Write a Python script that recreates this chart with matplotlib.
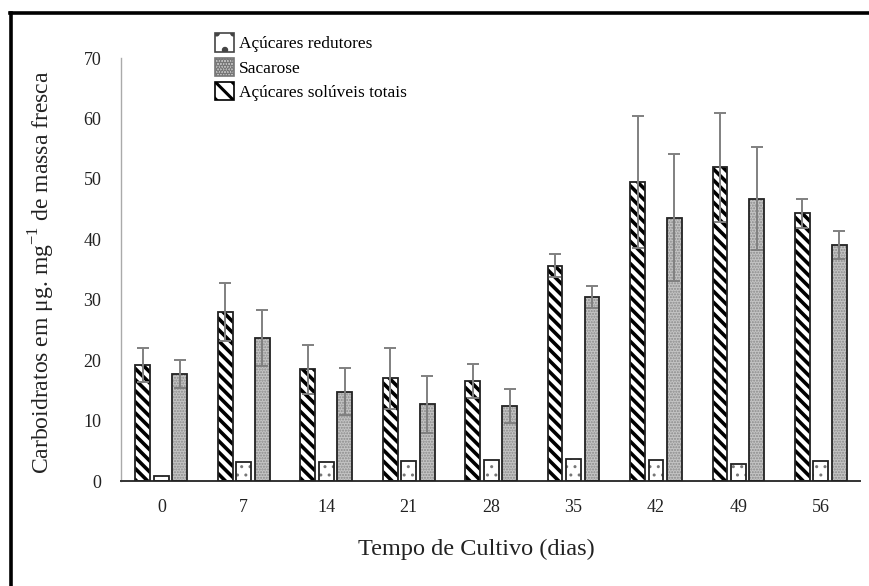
import numpy as np
import matplotlib
matplotlib.use("Agg")
from matplotlib import pyplot as plt
from matplotlib.lines import Line2D
from matplotlib.patches import Patch

plt.rcParams['font.family'] = ['Liberation Serif', 'DejaVu Serif']
plt.rcParams['mathtext.fontset'] = 'custom'
plt.rcParams['mathtext.rm'] = 'Liberation Serif'
plt.rcParams['hatch.linewidth'] = 2.2

# dados
dias = ['0', '7', '14', '21', '28', '35', '42', '49', '56']
totais = [19.2, 27.9, 18.5, 17.0, 16.6, 35.6, 49.5, 51.9, 44.3]
totais_err = [2.8, 4.8, 4.1, 5.0, 2.8, 1.9, 10.9, 9.0, 2.4]
sacarose = [17.7, 23.7, 14.8, 12.7, 12.4, 30.5, 43.6, 46.7, 39.1]
sacarose_err = [2.3, 4.6, 3.9, 4.7, 2.8, 1.8, 10.5, 8.5, 2.3]
redutores = [0.9, 3.1, 3.1, 3.3, 3.5, 3.7, 3.5, 2.8, 3.3]

x = np.arange(len(dias))
w = 0.18
off = 0.224

fig = plt.figure(figsize=(8.7, 5.86), dpi=100)
ax = fig.add_axes([0.139, 0.179, 0.850, 0.722])

# totais (listrado)
b1 = ax.bar(x - off, totais, w, color='white', edgecolor='black', hatch='\\\\\\', linewidth=0, zorder=2)
ax.bar(x - off, totais, w, fill=False, edgecolor='#222222', linewidth=1.3, zorder=3)

# redutores (pontilhado esparso)
b2 = ax.bar(x, redutores, w, color='white', edgecolor='#777777', hatch='..', linewidth=0, zorder=2)
ax.bar(x, redutores, w, fill=False, edgecolor='#222222', linewidth=1.3, zorder=3)

# sacarose (pontilhado denso)
b3 = ax.bar(x + off, sacarose, w, color='#c4c4c4', edgecolor='#8a8a8a', hatch='......', linewidth=0, zorder=2)
ax.bar(x + off, sacarose, w, fill=False, edgecolor='#222222', linewidth=1.3, zorder=3)

for p in b1:
    if hasattr(p, 'set_hatch_linewidth'):
        p.set_hatch_linewidth(2.6)
for p in list(b2) + list(b3):
    if hasattr(p, 'set_hatch_linewidth'):
        p.set_hatch_linewidth(1.0)

ax.errorbar(x - off, totais, yerr=totais_err, fmt='none', ecolor='#808080',
            elinewidth=1.4, capsize=4, capthick=1.4, zorder=4)
ax.errorbar(x + off, sacarose, yerr=sacarose_err, fmt='none', ecolor='#808080',
            elinewidth=1.4, capsize=4, capthick=1.4, zorder=4)

ax.set_xlim(-0.49, 8.48)
ax.set_ylim(0, 70)
ax.set_yticks(range(0, 71, 10))
ax.set_xticks(x)
ax.set_xticklabels(dias)
ax.tick_params(axis='both', length=0, labelsize=13, colors='#222222')
ax.tick_params(axis='y', pad=14)
ax.tick_params(axis='x', pad=13)

ax.spines['top'].set_visible(False)
ax.spines['right'].set_visible(False)
ax.spines['left'].set_color('#aaaaaa')
ax.spines['left'].set_linewidth(1.0)
ax.spines['bottom'].set_color('#333333')
ax.spines['bottom'].set_linewidth(1.4)

fig.text(0.048, 0.535, 'Carboidratos em \u03bcg. mg$^{-1}$ de massa fresca', rotation=90,
         ha='center', va='center', fontsize=17, color='#222222')
fig.text(0.547, 0.062, 'Tempo de Cultivo (dias)', ha='center', va='center',
         fontsize=17.5, color='#222222')

handles = [
    Patch(facecolor='white', edgecolor='#444444', hatch='.', linewidth=1.2),
    Patch(facecolor='#c4c4c4', edgecolor='#777777', hatch='......', linewidth=1.2),
    Patch(facecolor='white', edgecolor='black', hatch='\\\\', linewidth=1.2),
]
labels = ['Açúcares redutores', 'Sacarose', 'Açúcares solúveis totais']
fig.legend(handles, labels, loc='upper left', bbox_to_anchor=(0.237, 0.958),
           frameon=False, fontsize=12.5, handlelength=1.1, handleheight=1.25,
           handletextpad=0.3, labelspacing=0.3, borderpad=0)

# moldura
fig.add_artist(Line2D([0.0126, 0.0126], [0.0, 0.978], color='black', linewidth=2.6))
fig.add_artist(Line2D([0.0115, 1.0], [0.977, 0.977], color='black', linewidth=2.6))

fig.savefig('out.png', dpi=100)
